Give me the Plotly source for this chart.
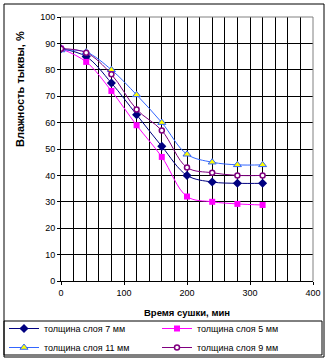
import plotly.graph_objects as go

time_min = [0, 40, 80, 120, 160, 200, 240, 280, 320]
layer_7mm = [88, 85, 75, 63, 51, 40, 37.5, 37, 37]
layer_5mm = [88, 83, 72, 59, 47, 32, 30, 29.2, 28.8]
layer_11mm = [87.5, 86.7, 80, 70.5, 60, 48, 45, 44, 44]
layer_9mm = [88, 86.5, 78.3, 65, 57, 43, 41, 40, 40]

names = ["толщина слоя 7 мм", "толщина слоя 5 мм", "толщина слоя 11 мм", "толщина слоя 9 мм"]
x_title = "Время сушки, мин"
y_title = "Влажность тыквы, %"

FONT = "Liberation Sans, Arial, sans-serif"

fig = go.Figure()
fig.add_trace(go.Scatter(x=time_min, y=layer_7mm, name=names[0], mode="lines+markers",
                         line=dict(color="#000080", width=1, shape="spline"),
                         marker=dict(symbol="diamond", size=7, color="#000080")))
fig.add_trace(go.Scatter(x=time_min, y=layer_5mm, name=names[1], mode="lines+markers",
                         line=dict(color="#FF00FF", width=1, shape="spline"),
                         marker=dict(symbol="square", size=6, color="#FF00FF")))
fig.add_trace(go.Scatter(x=time_min, y=layer_11mm, name=names[2], mode="lines+markers",
                         line=dict(color="#3366FF", width=1, shape="spline"),
                         marker=dict(symbol="triangle-up", size=7, color="#FFFF00",
                                     line=dict(color="#3366FF", width=1))))
fig.add_trace(go.Scatter(x=time_min, y=layer_9mm, name=names[3], mode="lines+markers",
                         line=dict(color="#800080", width=1, shape="spline"),
                         marker=dict(symbol="circle", size=5, color="white",
                                     line=dict(color="#800080", width=1.5))))

W, H = 330, 360
L, R, T, B = 61, 313, 17, 281
pw, ph = R - L, B - T

def px(x):
    return (x - L) / pw

def py(y):
    return (B - y) / ph

shapes = [
    # outer frame
    dict(type="rect", xref="paper", yref="paper", x0=px(4), x1=px(324), y0=py(357), y1=py(4),
         line=dict(color="black", width=1)),
    # legend box
    dict(type="rect", xref="paper", yref="paper", x0=px(4), x1=px(322), y0=py(355), y1=py(321),
         line=dict(color="black", width=1)),
    # plot-area gray top/right border
    dict(type="line", xref="paper", yref="paper", x0=0, x1=1, y0=1, y1=1,
         line=dict(color="#808080", width=1)),
    dict(type="line", xref="paper", yref="paper", x0=1, x1=1, y0=0, y1=1,
         line=dict(color="#808080", width=1)),
]

annotations = [
    dict(text="<b>" + y_title + "</b>", xref="paper", yref="paper", x=px(20), y=py(89),
         textangle=-90, showarrow=False, font=dict(family=FONT, size=11, color="black"),
         xanchor="center", yanchor="middle"),
    dict(text="<b>" + x_title + "</b>", xref="paper", yref="paper", x=px(187), y=py(312),
         showarrow=False, font=dict(family=FONT, size=9.5, color="black"),
         xanchor="center", yanchor="middle"),
]

fig.update_layout(
    width=W, height=H,
    margin=dict(l=L, r=W - R, t=T, b=H - B, autoexpand=False),
    paper_bgcolor="white", plot_bgcolor="white",
    font=dict(family=FONT, size=9, color="black"),
    showlegend=True,
    legend=dict(orientation="h", x=px(4), y=py(314), xanchor="left", yanchor="top",
                entrywidth=108, entrywidthmode="pixels",
                font=dict(family=FONT, size=9, color="black"),
                bgcolor="rgba(0,0,0,0)", borderwidth=0, itemwidth=30,
                tracegroupgap=0),
    xaxis=dict(range=[0, 400], dtick=100, tick0=0, showgrid=True, gridcolor="black", gridwidth=1,
               minor=dict(dtick=20, showgrid=True, gridcolor="black", gridwidth=1),
               showline=True, linecolor="black", linewidth=1, ticks="outside", ticklen=3,
               tickcolor="black", zeroline=False, fixedrange=True),
    yaxis=dict(range=[0, 100], dtick=10, tick0=0, showgrid=True, gridcolor="black", gridwidth=1,
               showline=True, linecolor="black", linewidth=1, ticks="outside", ticklen=3,
               tickcolor="black", zeroline=False, fixedrange=True),
    shapes=shapes,
    annotations=annotations,
)

fig.write_html("out.html", config={"displayModeBar": False},
               post_script="document.body.style.margin='0';")
